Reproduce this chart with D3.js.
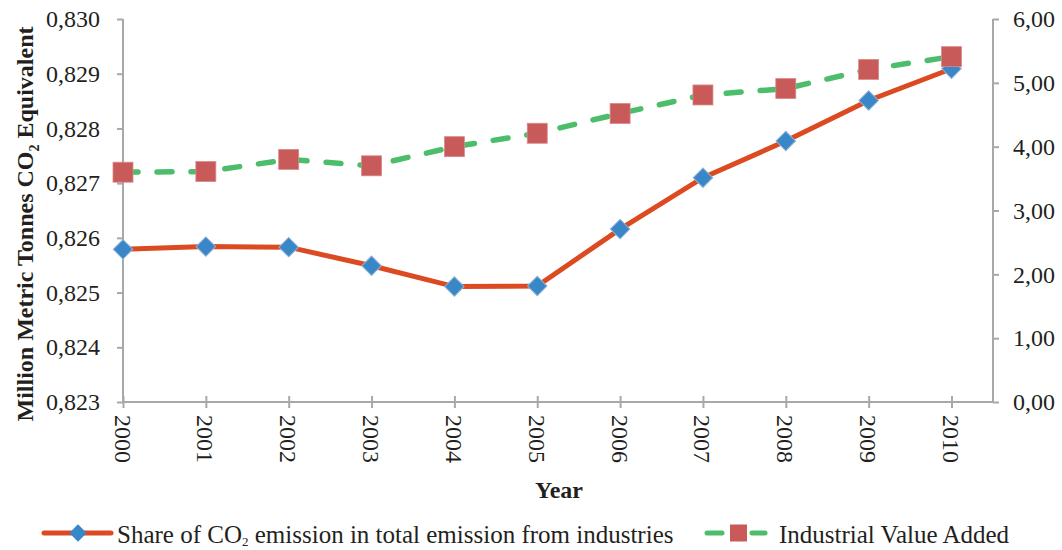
<!DOCTYPE html>
<html>
<head>
<meta charset="utf-8">
<script src="https://cdn.jsdelivr.net/npm/d3@7"></script>
<style>
  body { margin: 0; background: #fff; }
  text { font-family: "Liberation Serif", "Times New Roman", serif; fill: #231f20; }
</style>
</head>
<body>
<svg id="chart" width="1062" height="550"></svg>
<script>
// Years on the category axis
const years = [2000, 2001, 2002, 2003, 2004, 2005, 2006, 2007, 2008, 2009, 2010];
// Share of CO2 emission in total emission from industries (left axis)
const shareCO2 = [0.82579, 0.82584, 0.82583, 0.82549, 0.82511, 0.82512, 0.82616, 0.82710, 0.82777, 0.82851, 0.82909];
// Industrial value added (right axis)
const valueAdded = [3.60, 3.61, 3.80, 3.70, 4.00, 4.21, 4.52, 4.81, 4.91, 5.21, 5.41];
// Axis ticks
const leftTicks = [0.823, 0.824, 0.825, 0.826, 0.827, 0.828, 0.829, 0.830];
const rightTicks = [0, 1, 2, 3, 4, 5, 6];
const seriesNames = ["Share of CO\u2082 emission in total emission from industries", "Industrial Value Added"];

const svg = d3.select("#chart");
const plotLeft = 123, plotRight = 993, plotTop = 19, plotBottom = 402;
const xEnd = 951.5;

const x = d3.scaleLinear().domain([2000, 2010]).range([plotLeft, xEnd]);
const yL = d3.scaleLinear().domain([0.823, 0.830]).range([plotBottom, plotTop]);
const yR = d3.scaleLinear().domain([0, 6]).range([plotBottom, plotTop]);

const axisColor = "#a6a8ab";
const tickFont = "24px";

// Left axis
const gL = svg.append("g").attr("transform", `translate(${plotLeft},0)`)
  .call(d3.axisLeft(yL).tickValues(leftTicks).tickSize(6).tickPadding(17)
    .tickFormat(d => d3.format(".3f")(d).replace(".", ",")));
// Right axis
const gR = svg.append("g").attr("transform", `translate(${plotRight},0)`)
  .call(d3.axisRight(yR).tickValues(rightTicks).tickSize(6).tickPadding(14)
    .tickFormat(d => d3.format(".2f")(d).replace(".", ",")));
[gL, gR].forEach(g => {
  g.select(".domain").remove();
  g.selectAll(".tick line").attr("stroke", axisColor).attr("stroke-width", 2);
  g.selectAll(".tick text").style("font-family", "Liberation Serif").style("font-size", tickFont).attr("fill", "#231f20");
});
svg.append("line").attr("x1", plotLeft).attr("x2", plotLeft).attr("y1", plotTop).attr("y2", plotBottom)
  .attr("stroke", axisColor).attr("stroke-width", 2);
svg.append("line").attr("x1", plotRight).attr("x2", plotRight).attr("y1", plotTop).attr("y2", plotBottom)
  .attr("stroke", axisColor).attr("stroke-width", 2);

// Bottom axis: ticks cross the axis line, labels rotated
const gX = svg.append("g").attr("transform", `translate(0,${plotBottom})`)
  .call(d3.axisBottom(x).tickValues(years).tickSize(6).tickFormat(d3.format("d")));
gX.select(".domain").remove();
gX.selectAll(".tick line").attr("y1", -6).attr("stroke", axisColor).attr("stroke-width", 2);
gX.selectAll(".tick text")
  .style("font-family", "Liberation Serif").style("font-size", tickFont).attr("fill", "#231f20")
  .attr("text-anchor", "start").attr("dy", null).attr("y", 0)
  .attr("transform", "translate(-9,13) rotate(90)");
svg.append("line").attr("x1", plotLeft).attr("x2", plotRight).attr("y1", plotBottom).attr("y2", plotBottom)
  .attr("stroke", axisColor).attr("stroke-width", 2);

// Axis titles
svg.append("text").attr("transform", "translate(33,224) rotate(-90)")
  .attr("text-anchor", "middle").style("font-size", "24px").style("font-weight", "bold")
  .html('Million Metric Tonnes CO<tspan dy="6" font-size="14">2</tspan><tspan dy="-6"> Equivalent</tspan>');
svg.append("text").attr("x", 559).attr("y", 498).attr("text-anchor", "middle")
  .style("font-size", "24px").style("font-weight", "bold").text("Year");

const orange = "#dc4a22", blue = "#3a87c8", green = "#4cbe6b", red = "#c95a5a";

// Industrial value added: dashed line with squares
const lineR = d3.line().x((d, i) => x(years[i])).y(d => yR(d));
svg.append("path").datum(valueAdded).attr("d", lineR)
  .attr("fill", "none").attr("stroke", green).attr("stroke-width", 5.5)
  .attr("stroke-dasharray", "15,19").attr("stroke-linecap", "round");

// Share of CO2: solid line with diamonds
const lineL = d3.line().x((d, i) => x(years[i])).y(d => yL(d));
svg.append("path").datum(shareCO2).attr("d", lineL)
  .attr("fill", "none").attr("stroke", orange).attr("stroke-width", 5);

svg.selectAll(".diamond").data(shareCO2).enter().append("path")
  .attr("class", "diamond")
  .attr("d", d3.symbol().type(d3.symbolSquare).size(190))
  .attr("transform", (d, i) => `translate(${x(years[i])},${yL(d)}) rotate(45)`)
  .attr("fill", blue).attr("stroke", "#8fb3d6").attr("stroke-width", 1);

svg.selectAll(".square").data(valueAdded).enter().append("rect")
  .attr("class", "square")
  .attr("x", (d, i) => x(years[i]) - 10).attr("y", d => yR(d) - 10)
  .attr("width", 20).attr("height", 20)
  .attr("fill", red).attr("stroke", "#d98a8a").attr("stroke-width", 0.8);

// Legend
const ly = 533;
const lg1 = svg.append("g");
lg1.append("line").attr("x1", 44).attr("x2", 111).attr("y1", ly).attr("y2", ly)
  .attr("stroke", orange).attr("stroke-width", 5).attr("stroke-linecap", "round");
lg1.append("path").attr("d", d3.symbol().type(d3.symbolSquare).size(150))
  .attr("transform", `translate(78,${ly}) rotate(45)`).attr("fill", blue);
lg1.append("text").attr("x", 117).attr("y", 543).style("font-size", "25px")
  .html('Share of CO<tspan dy="3" font-size="13">2</tspan><tspan dy="-3"> emission in total emission from industries</tspan>');

const lg2 = svg.append("g");
lg2.append("line").attr("x1", 707).attr("x2", 722).attr("y1", ly).attr("y2", ly)
  .attr("stroke", green).attr("stroke-width", 5).attr("stroke-linecap", "round");
lg2.append("line").attr("x1", 752).attr("x2", 765).attr("y1", ly).attr("y2", ly)
  .attr("stroke", green).attr("stroke-width", 5).attr("stroke-linecap", "round");
lg2.append("rect").attr("x", 730).attr("y", ly - 8.5).attr("width", 17).attr("height", 17).attr("fill", red);
lg2.append("text").attr("x", 779).attr("y", 543).style("font-size", "25px").text(seriesNames[1]);
</script>
</body>
</html>
